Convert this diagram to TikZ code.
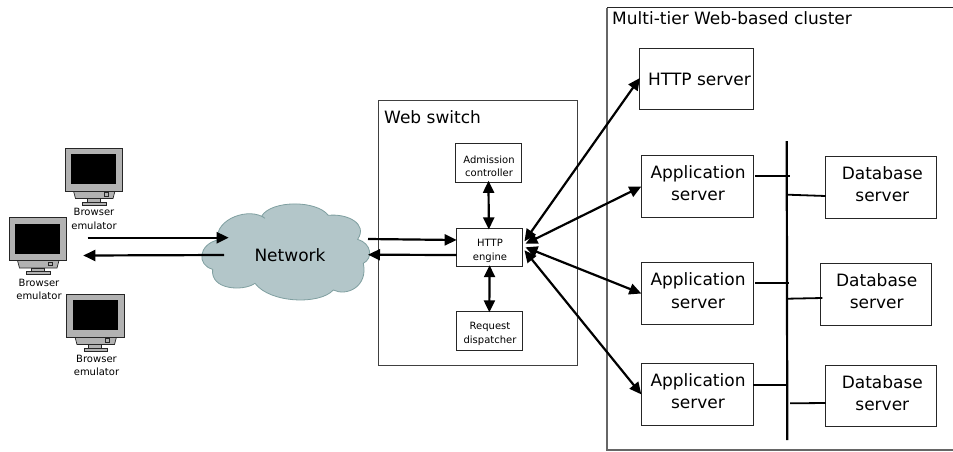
\documentclass[tikz,border=0pt]{standalone}
\usepackage{fontspec}
\setmainfont{DejaVu Sans}
\usetikzlibrary{arrows.meta}
\definecolor{cloudfill}{HTML}{B3C6C9}
\definecolor{cloudline}{HTML}{7F9FA0}
\tikzset{
  x=1pt,y=-1pt,
  lab/.style={font=\fontsize{17}{22.3}\selectfont,align=center,inner sep=0,text=black},
  small/.style={font=\fontsize{10}{13.4}\selectfont,align=center,inner sep=0,text=black},
  box/.style={draw=black!85,line width=.9pt,fill=white,inner sep=0,outer sep=0},
  conn/.style={line width=2.2pt,draw=black,-{Triangle[length=12pt,width=11pt]}},
  dbl/.style={line width=2.2pt,draw=black,{Triangle[length=12pt,width=11pt]}-{Triangle[length=12pt,width=11pt]}},
  plain/.style={line width=1.8pt,draw=black},
  mpart/.style={fill=black!30,draw=black!85,line width=.7pt},
  pics/monitor/.style={code={
    \path[mpart] (8.5,43) -- (50,43) -- (48,50.5) -- (10.5,50.5) -- cycle;
    \path[mpart] (22,50.5) rectangle (35,54);
    \path[mpart] (17.5,54) rectangle (41,57);
    \path[mpart] (39,44.5) rectangle (43,48);
    \path[mpart] (0,0) rectangle (57.5,43);
    \fill[black] (6,6) rectangle (51,36);
  }}
}
\begin{document}
\begin{tikzpicture}
\useasboundingbox (0,0) rectangle (953,451);
% containers
\draw[draw=black!60,line width=1.2pt] (953,450) -- (607,450) -- (607,7.5);
\draw[draw=black!85,line width=1pt] (607,7.5) -- (953,7.5);
\node[box,draw=black!75,minimum width=199pt,minimum height=265pt] (switch) at (477.5,232.5) {};
\node[lab,anchor=west] (switchlab) at (384,117) {Web switch};
\node[lab,anchor=west] (clusterlab) at (612,18.5) {Multi-tier Web-based cluster};
% monitors
\path (65,148) pic {monitor};
\path (9,217.5) pic {monitor};
\path (66.5,294) pic {monitor};
\node[small] (b1) at (94,219) {Browser\\emulator};
\node[small] (b2) at (39,289.3) {Browser\\emulator};
\node[small] (b3) at (96.5,365.5) {Browser\\emulator};
% cloud
\begin{scope}[shift={(200,190)},x=.3333pt,y=-.3333pt]
\draw[fill=cloudfill,draw=cloudline,line width=.8pt]
  (52,150) .. controls (45,85) and (150,50) .. (195,85)
  -- (185,78) .. controls (215,30) and (350,30) .. (385,76)
  .. controls (440,70) and (505,100) .. (473,148)
  .. controls (515,160) and (520,205) .. (490,220)
  .. controls (505,290) and (440,320) .. (400,300)
  .. controls (360,345) and (210,340) .. (165,280)
  .. controls (130,305) and (30,300) .. (38,238)
  .. controls (-10,225) and (-5,165) .. (52,150) -- cycle;
\end{scope}
\node[lab] (network) at (290,255) {Network};
% web switch boxes
\node[box,minimum width=65.6pt,minimum height=39pt] (adm) at (488.5,162.8) {};
\node[small] at (489,166) {Admission\\controller};
\node[box,minimum width=65.3pt,minimum height=38.7pt] (engine) at (489.3,247.3) {};
\node[small] at (490,250.7) {HTTP\\engine};
\node[box,minimum width=65.3pt,minimum height=39pt] (req) at (489.3,330.8) {};
\node[small] at (490,334) {Request\\dispatcher};
% cluster boxes
\node[box,minimum width=113.7pt,minimum height=61.4pt] (http) at (696.2,79) {};
\node[lab] at (699.5,79) {HTTP server};
\node[box,minimum width=111.7pt,minimum height=61.6pt] (app1) at (697.2,186.5) {};
\node[lab] at (698,183) {Application\\server};
\node[box,minimum width=111.7pt,minimum height=61.6pt] (app2) at (697.2,293.5) {};
\node[lab] at (698,290.7) {Application\\server};
\node[box,minimum width=111.7pt,minimum height=61.3pt] (app3) at (697.2,394.4) {};
\node[lab] at (698,391.4) {Application\\server};
\node[box,minimum width=111pt,minimum height=61.6pt] (db1) at (881.2,187.5) {};
\node[lab] at (882.3,184) {Database\\server};
\node[box,minimum width=111.4pt,minimum height=61.7pt] (db2) at (876,294.2) {};
\node[lab] at (876.7,291.4) {Database\\server};
\node[box,minimum width=111pt,minimum height=61.3pt] (db3) at (881.2,395.7) {};
\node[lab] at (882.3,392.9) {Database\\server};
% bus
\coordinate (bustop) at (786.7,141);
\coordinate (busbot) at (787.3,440);
\draw[line width=2.2pt] (bustop) -- (busbot);
\draw[plain] ([xshift=2pt]app1.east |- 0,176) -- (790,176);
\draw[plain] (788,194.7) -- (db1.west |- 0,196);
\draw[plain] ([xshift=2pt]app2.east |- 0,283) -- (789,283);
\draw[plain] (788,298.7) -- ([xshift=2pt]db2.west |- 0,298);
\draw[plain] (app3.east |- 0,385) -- (787,385);
\draw[plain] (790,403.3) -- (db3.west |- 0,403);
% client and network arrows
\coordinate (c1) at (87.7,237.7);
\coordinate (n1) at (228.7,237.7);
\coordinate (n2) at (224,255);
\coordinate (c2) at (83.3,255.5);
\coordinate (n3) at (368,239);
\coordinate (n4) at (368,254.7);
\draw[conn] (c1) -- (n1);
\draw[conn] (n2) -- (c2);
\draw[conn] (n3) -- (engine.west |- 0,240);
\draw[conn] (engine.west |- 0,255) -- (n4);
% engine links
\draw[dbl] ([yshift=1.5pt]adm.south) -- ([yshift=-1.5pt,xshift=-.5pt]engine.north);
\draw[dbl] ([yshift=1.5pt,xshift=.3pt]engine.south) -- ([yshift=-1pt]req.north);
\draw[dbl] ([shift={(2.5,-6)}]engine.east) -- ([xshift=.5pt,yshift=1pt]http.west);
\draw[dbl] ([shift={(3.5,-3.5)}]engine.east) -- (app1.west);
\draw[dbl] ([shift={(3.5,0)}]engine.east) -- (app2.west);
\draw[dbl] ([shift={(2.5,3)}]engine.east) -- (app3.west);
\end{tikzpicture}
\end{document}
